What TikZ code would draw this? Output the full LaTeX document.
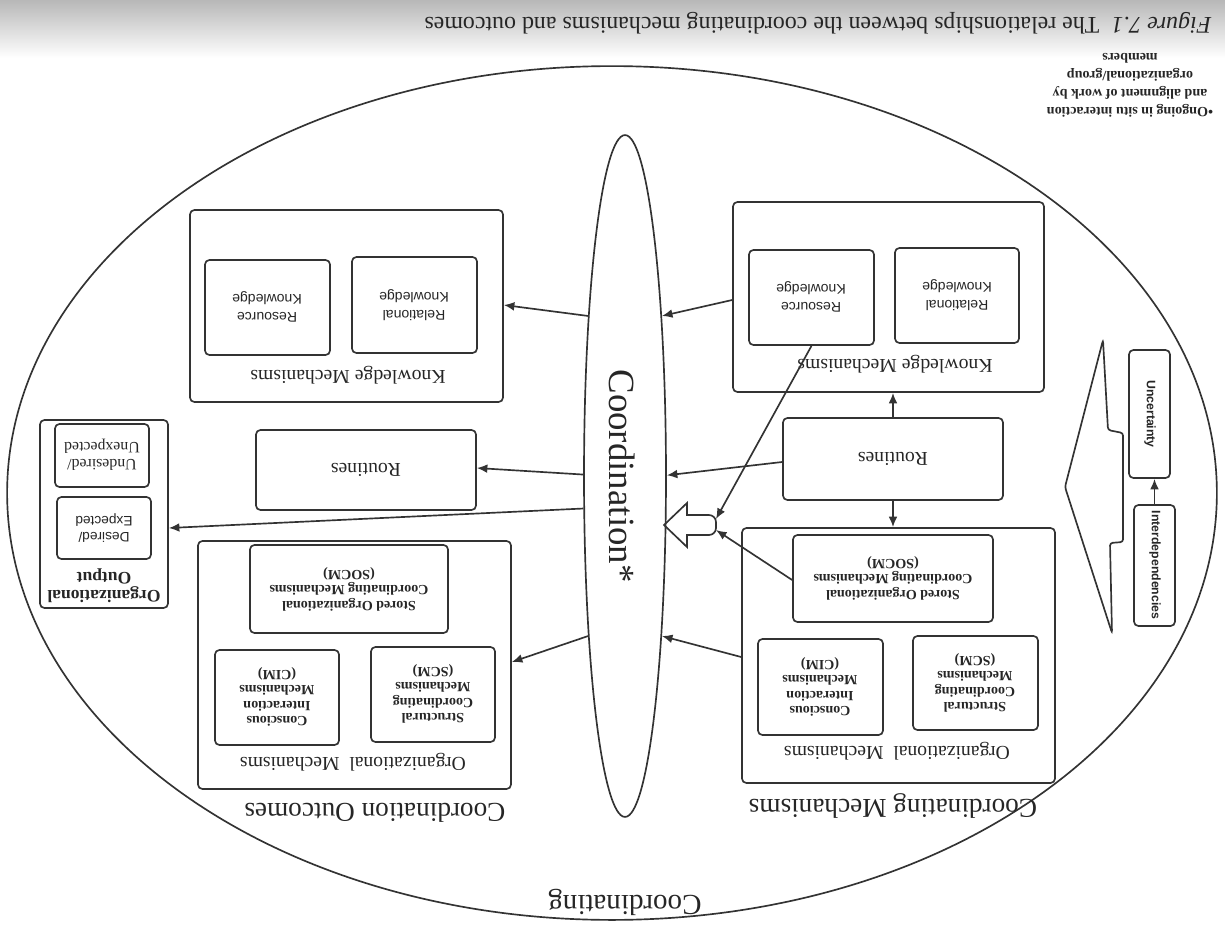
\documentclass[tikz,border=0pt]{standalone}
\usepackage{fontspec}
\setmainfont{Liberation Serif}
\newfontfamily\sansf{Liberation Sans}
\usetikzlibrary{shapes.geometric,arrows.meta,fit}
\begin{document}
\begin{tikzpicture}[x=0.02cm,y=-0.02cm,
  ln/.style={draw=black!80, line width=0.95pt},
  box/.style={ln, rounded corners=2.5pt, inner sep=0pt},
  arr/.style={draw=black!80, line width=0.95pt, -{Latex[length=6pt,width=5pt]}},
  up/.style={rotate=180, align=center, inner sep=0pt, text=black!85},
  bigtxt/.style={up, font=\fontsize{15.5}{18}\selectfont},
  titletxt/.style={up, font=\fontsize{11.2}{13}\selectfont},
  boldtxt/.style={up, font=\bfseries\fontsize{8}{8.8}\selectfont},
  sanstxt/.style={up, font=\sansf\fontsize{8}{10}\selectfont},
  vtxt/.style={rotate=-90, inner sep=0pt, text=black!85, font=\sansf\bfseries\fontsize{7}{8}\selectfont}]
\useasboundingbox (0,0) rectangle (1225,930);
\shade[top color=black!28, bottom color=white] (0,0) rectangle (1225,58);

% caption and note
\node[up, font=\fontsize{13.6}{15}\selectfont] (caption) at (818,23)
  {{\itshape Figure 7.1}\ \ The relationships between the coordinating mechanisms and outcomes};
\node[up, font=\bfseries\fontsize{8}{10.2}\selectfont] (note) at (1130,85)
  {\textbullet Ongoing in situ interaction\\and alignment of work by\\organizational/group\\members};

% outer ellipse and coordination ellipse
\node[ellipse, ln, minimum width=24.2cm, minimum height=17.08cm, inner sep=0pt] (outer) at (612,493) {};
\node[ellipse, ln, minimum width=1.64cm, minimum height=13.64cm, inner sep=0pt] (co) at (625,476) {};
\node[rotate=-90, inner sep=0pt, text=black!85, font=\fontsize{21}{24}\selectfont] (cotext) at (622,476) {Coordination*};

% big labels
\node[bigtxt, font=\fontsize{16.5}{19}\selectfont] (coordinating) at (625,902) {Coordinating};
\node[bigtxt] (coout) at (375,813) {Coordination Outcomes};
\node[bigtxt] (comech) at (893,806) {Coordinating Mechanisms};

% right: knowledge mechanisms
\node[box, fit={(733,202)(1044,392)}] (kmr) {};
\node[box, fit={(749,250)(874,345)}] (resr) {};
\node[box, fit={(895,248)(1019,343)}] (relr) {};
\node[titletxt] (kmrt) at (895,364) {Knowledge Mechanisms};
\node[sanstxt] (resrt) at (811,297) {Resource\\Knowledge};
\node[sanstxt] (relrt) at (957,295) {Relational\\Knowledge};

% right: routines
\node[box, fit={(783,418)(1003,500)}] (routr) {};
\node[titletxt] (routrt) at (893,459) {Routines};

% right: organizational mechanisms
\node[box, fit={(742,528)(1055,783)}] (omr) {};
\node[box, fit={(793,535)(993,622)}] (socmr) {};
\node[box, fit={(758,639)(883,735)}] (cimr) {};
\node[box, fit={(913,636)(1038,730)}] (scmr) {};
\node[boldtxt] (socmrt) at (893,578) {Stored Organizational\\Coordinating Mechanisms\\(SOCM)};
\node[boldtxt] (cimrt) at (820,687) {Conscious\\Interaction\\Mechanisms\\(CIM)};
\node[boldtxt] (scmrt) at (975,683) {Structural\\Coordinating\\Mechanisms\\(SCM)};
\node[titletxt] (omrt) at (897,751) {Organizational\ \ Mechanisms};

% uncertainty / interdependencies
\node[box, fit={(1129,350)(1170,478)}] (unc) {};
\node[box, fit={(1134,505)(1175,626)}] (interd) {};
\node[vtxt] (unct) at (1150,414) {Uncertainty};
\node[vtxt] (interdt) at (1155,565) {Interdependencies};
\draw[arr] (interd.north) -- (interd.north |- unc.south);

% block arrow beside them
\draw[ln, rounded corners=1.5pt] (1103,340) -- (1108,430) -- (1123,433) -- (1123,542)
  -- (1110,543) -- (1112,633) -- (1065,487) -- cycle;

% left: knowledge mechanisms
\node[box, fit={(190,210)(503,402)}] (kml) {};
\node[box, fit={(205,260)(330,355)}] (resl) {};
\node[box, fit={(352,257)(477,353)}] (rell) {};
\node[titletxt] (kmlt) at (348,375) {Knowledge Mechanisms};
\node[sanstxt] (reslt) at (267,307) {Resource\\Knowledge};
\node[sanstxt] (rellt) at (414,305) {Relational\\Knowledge};

% left: routines
\node[box, fit={(256,430)(476,510)}] (routl) {};
\node[titletxt] (routlt) at (366,470) {Routines};

% left: organizational output
\node[box, fit={(40,420)(168,608)}] (orgout) {};
\node[box, fit={(55,424)(149,487)}] (undes) {};
\node[box, fit={(57,497)(151,559)}] (des) {};
\node[up, font=\fontsize{9}{9.6}\selectfont] (undest) at (102,455) {Undesired/\\Unexpected};
\node[up, font=\sansf\fontsize{7.8}{9.6}\selectfont] (dest) at (104,528) {Desired/\\Expected};
\node[up, font=\bfseries\fontsize{10}{10}\selectfont] (orgoutt) at (104,586) {Organizational\\Output};

% left: organizational mechanisms
\node[box, fit={(198,541)(511,789)}] (oml) {};
\node[box, fit={(250,545)(448,633)}] (socml) {};
\node[box, fit={(215,650)(339,745)}] (ciml) {};
\node[box, fit={(371,647)(495,742)}] (scml) {};
\node[boldtxt] (socmlt) at (349,589) {Stored Organizational\\Coordinating Mechanisms\\(SOCM)};
\node[boldtxt] (cimlt) at (277,697) {Conscious\\Interaction\\Mechanisms\\(CIM)};
\node[boldtxt] (scmlt) at (433,694) {Structural\\Coordinating\\Mechanisms\\(SCM)};
\node[titletxt] (omlt) at (353,762) {Organizational\ \ Mechanisms};

% hollow arrow into coordination
\coordinate (hatip) at (664,525);
\coordinate (hae1) at (716,519);
\coordinate (hae2) at (716,530);
\draw[ln] (hatip) -- (687,503) -- (687,515) [rounded corners=4pt] -- (716,515) -- (716,535) [sharp corners] -- (687,535) -- (687,547) -- cycle;

% connectors, right side
\draw[arr] (routr.north) -- (routr.north |- kmr.south);
\draw[arr] (routr.south) -- (routr.south |- omr.north);
\draw[arr] (kmr.west |- 0,300) -- (co.77.4);
\draw[arr] (routr.west |- 0,462) -- (co.1.5);
\draw[arr] (omr.west |- 0,657) -- (co.-77.6);
\draw[arr] (resr.south) -- (hae1);
\draw[arr] (socmr.west |- 0,580) -- (hae2);

% connectors, left side
\draw[arr] (co.103.5) -- (kml.east |- 0,305);
\draw[arr] (co.178) -- (routl.east |- 0,468);
\draw[arr] (co.218) -- (orgout.east |- 0,528);
\draw[arr] (co.257) -- (oml.east |- 0,662);
\end{tikzpicture}
\end{document}
